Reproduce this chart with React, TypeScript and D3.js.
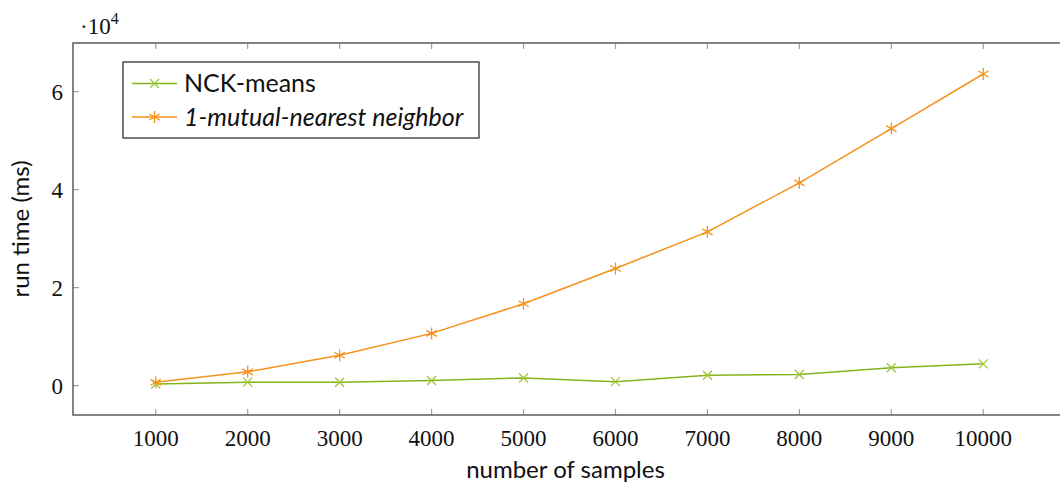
import React, { useEffect, useRef } from "react";
import * as d3 from "d3";

// values (run time in ms)
const samples = [1000, 2000, 3000, 4000, 5000, 6000, 7000, 8000, 9000, 10000];
const nckMeans = [320, 700, 680, 1020, 1560, 800, 2100, 2250, 3650, 4430];
const mutualNN = [670, 2800, 6200, 10650, 16700, 23900, 31380, 41380, 52450, 63600];
const yTicks = [0, 20000, 40000, 60000];

const W = 1060;
const H = 486;
const frame = { left: 73, right: 1066, top: 43, bottom: 415 };

const GREEN = "#86b31c";
const ORANGE = "#f5921b";
const SERIF = "'Liberation Serif', 'DejaVu Serif', serif";
const SANS = "Lato, 'Open Sans', sans-serif";

export default function App() {
  const ref = useRef<SVGSVGElement>(null);

  useEffect(() => {
    const svg = d3.select(ref.current);
    svg.selectAll("*").remove();

    // pgfplots style: enlarge limits by 10% on each side
    const xExt = d3.extent(samples) as [number, number];
    const xPad = (xExt[1] - xExt[0]) * 0.1;
    const x = d3.scaleLinear().domain([xExt[0] - xPad, xExt[1] + xPad]).range([frame.left, frame.right]);

    const all = nckMeans.concat(mutualNN);
    const yMin = d3.min(all) as number;
    const yMax = d3.max(all) as number;
    const yPad = (yMax - yMin) * 0.1;
    const y = d3.scaleLinear().domain([yMin - yPad, yMax + yPad]).range([frame.bottom, frame.top]);

    const g = svg.append("g");
    const tickLen = 6;

    // ticks, inside and mirrored on all sides
    samples.forEach((s) => {
      const px = x(s);
      g.append("line").attr("x1", px).attr("x2", px).attr("y1", frame.bottom).attr("y2", frame.bottom - tickLen)
        .attr("stroke", "#a0a0a0").attr("stroke-width", 1.2);
      g.append("line").attr("x1", px).attr("x2", px).attr("y1", frame.top).attr("y2", frame.top + tickLen)
        .attr("stroke", "#a0a0a0").attr("stroke-width", 1.2);
      g.append("text").attr("x", px).attr("y", frame.bottom + 31)
        .attr("text-anchor", "middle").attr("font-family", SERIF).attr("font-size", 23)
        .attr("fill", "#111").text(s);
    });
    yTicks.forEach((v) => {
      const py = y(v);
      g.append("line").attr("x1", frame.left).attr("x2", frame.left + tickLen).attr("y1", py).attr("y2", py)
        .attr("stroke", "#a0a0a0").attr("stroke-width", 1.2);
      g.append("line").attr("x1", frame.right).attr("x2", frame.right - tickLen).attr("y1", py).attr("y2", py)
        .attr("stroke", "#a0a0a0").attr("stroke-width", 1.2);
      g.append("text").attr("x", frame.left - 10).attr("y", py + 8)
        .attr("text-anchor", "end").attr("font-family", SERIF).attr("font-size", 23)
        .attr("fill", "#111").text(v / 10000);
    });

    // axis frame
    g.append("rect").attr("x", frame.left).attr("y", frame.top)
      .attr("width", frame.right - frame.left).attr("height", frame.bottom - frame.top)
      .attr("fill", "none").attr("stroke", "#666").attr("stroke-width", 1.6);

    // scale factor label
    const sf = g.append("text").attr("x", 80).attr("y", 34).attr("font-family", SERIF)
      .attr("font-size", 23).attr("fill", "#111");
    sf.append("tspan").text("·10");
    sf.append("tspan").attr("dy", -10).attr("font-size", 16).text("4");

    // axis titles
    g.append("text").attr("x", (frame.left + frame.right) / 2 - 4).attr("y", 478)
      .attr("text-anchor", "middle").attr("font-family", SANS).attr("font-size", 24)
      .attr("fill", "#111").text("number of samples");
    g.append("text").attr("transform", `translate(29,${(frame.top + frame.bottom) / 2}) rotate(-90)`)
      .attr("text-anchor", "middle").attr("font-family", SANS).attr("font-size", 24)
      .attr("fill", "#111").text("run time (ms)");

    const line = d3.line<number>().x((_, i) => x(samples[i])).y((d) => y(d));

    const drawCross = (sel: any, cx: number, cy: number, color: string) => {
      const r = 4.5;
      sel.append("path").attr("d", `M${cx - r},${cy - r}L${cx + r},${cy + r}M${cx - r},${cy + r}L${cx + r},${cy - r}`)
        .attr("stroke", color).attr("stroke-width", 1.3).attr("fill", "none");
    };
    const drawAsterisk = (sel: any, cx: number, cy: number, color: string) => {
      const r = 6;
      let d = "";
      [90, 30, 150].forEach((a) => {
        const dx = r * Math.cos((a * Math.PI) / 180);
        const dy = r * Math.sin((a * Math.PI) / 180);
        d += `M${cx - dx},${cy - dy}L${cx + dx},${cy + dy}`;
      });
      sel.append("path").attr("d", d).attr("stroke", color).attr("stroke-width", 1.3).attr("fill", "none");
    };

    // NCK-means
    g.append("path").datum(nckMeans).attr("d", line).attr("fill", "none")
      .attr("stroke", GREEN).attr("stroke-width", 1.5);
    nckMeans.forEach((v, i) => drawCross(g, x(samples[i]), y(v), "#9ac83a"));

    // 1-mutual-nearest neighbor
    g.append("path").datum(mutualNN).attr("d", line).attr("fill", "none")
      .attr("stroke", ORANGE).attr("stroke-width", 1.5);
    mutualNN.forEach((v, i) => drawAsterisk(g, x(samples[i]), y(v), ORANGE));

    // legend
    const lg = g.append("g");
    lg.append("rect").attr("x", 123).attr("y", 62).attr("width", 356).attr("height", 76)
      .attr("fill", "#fff").attr("stroke", "#222").attr("stroke-width", 1.2);
    const rows = [
      { name: "NCK-means", color: GREEN, mark: "x", italic: false, cy: 83.5 },
      { name: "1-mutual-nearest neighbor", color: ORANGE, mark: "*", italic: true, cy: 117 },
    ];
    rows.forEach((r) => {
      lg.append("line").attr("x1", 132).attr("x2", 177).attr("y1", r.cy).attr("y2", r.cy)
        .attr("stroke", r.color).attr("stroke-width", 1.5);
      if (r.mark === "x") drawCross(lg, 154.5, r.cy, "#9ac83a");
      else drawAsterisk(lg, 154.5, r.cy, r.color);
      lg.append("text").attr("x", 184).attr("y", r.cy + 8.5).attr("font-family", SANS)
        .attr("font-size", 25).attr("font-style", r.italic ? "italic" : "normal")
        .attr("fill", "#111").text(r.name);
    });
  }, []);

  return (
    <svg ref={ref} width={W} height={H} viewBox={`0 0 ${W} ${H}`}
      style={{ position: "absolute", left: 0, top: 0, background: "#fff" }} />
  );
}
